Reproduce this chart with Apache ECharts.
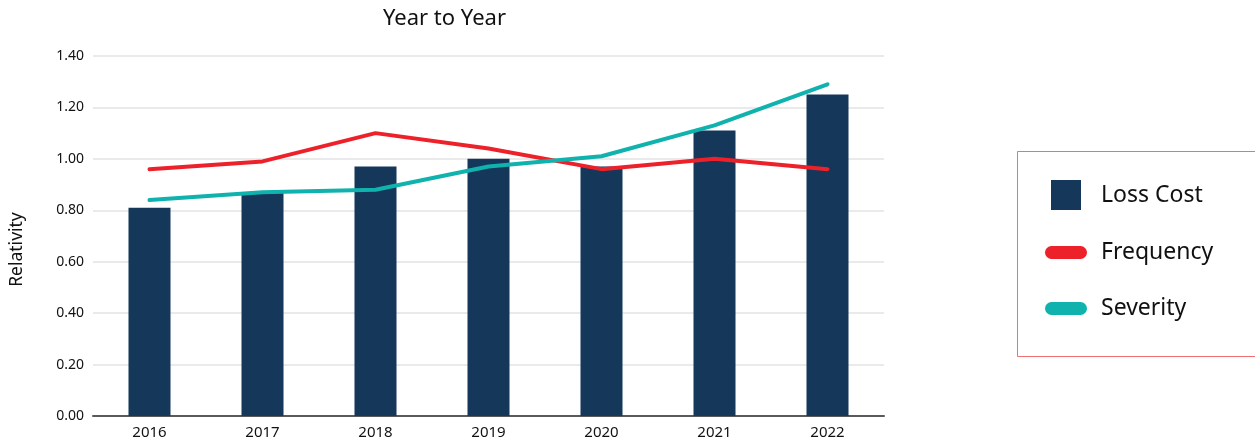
<!DOCTYPE html>
<html>
<head>
<meta charset="utf-8">
<script src="https://cdn.jsdelivr.net/npm/echarts@6/dist/echarts.min.js"></script>
<style>
  html, body { margin: 0; padding: 0; background: #fff; }
  #chart { width: 1255px; height: 445px; }
</style>
</head>
<body>
<div id="chart"></div>
<script>
const categories = ['2016', '2017', '2018', '2019', '2020', '2021', '2022'];
const lossCost = [0.81, 0.87, 0.97, 1.00, 0.97, 1.11, 1.25];
const frequency = [0.96, 0.99, 1.10, 1.04, 0.96, 1.00, 0.96];
const severity = [0.84, 0.87, 0.88, 0.97, 1.01, 1.13, 1.29];
const seriesNames = ['Loss Cost', 'Frequency', 'Severity'];
const yTicks = { min: 0, max: 1.4, interval: 0.2 };

const FONT = '"Noto Sans", sans-serif';
const NAVY = '#14375a';
const RED = '#ed2129';
const TEAL = '#10b2ae';
const PILL = 'path://M6.5,0H35.5A6.5,6.5,0,0,1,35.5,13H6.5A6.5,6.5,0,0,1,6.5,0Z';

function legendFor(name, icon, color, left, top) {
  return {
    orient: 'vertical',
    left: left,
    top: top,
    padding: 0,
    itemWidth: 42,
    itemHeight: 30,
    symbolKeepAspect: true,
    selectedMode: false,
    textStyle: { color: '#111', fontSize: 23, fontFamily: FONT, padding: [4, 0, 0, 9] },
    data: [{ name: name, icon: icon, itemStyle: { color: color, borderWidth: 0 } }]
  };
}

const chart = echarts.init(document.getElementById('chart'), null, { renderer: 'canvas' });
chart.setOption({
  animation: false,
  backgroundColor: '#ffffff',
  textStyle: { fontFamily: FONT },
  title: {
    text: 'Year to Year',
    left: 444.5,
    top: 8,
    padding: 0,
    textAlign: 'center',
    textStyle: { fontFamily: FONT, fontSize: 22, fontWeight: 'normal', color: '#111' }
  },
  grid: { left: 93, top: 56, width: 791, height: 360, containLabel: false },
  xAxis: {
    type: 'category',
    data: categories,
    axisLine: { lineStyle: { color: '#5a5a5a', width: 2 } },
    axisTick: { show: false },
    axisLabel: { color: '#111', fontSize: 15, fontFamily: FONT, margin: 9 }
  },
  yAxis: {
    type: 'value',
    min: yTicks.min,
    max: yTicks.max,
    interval: yTicks.interval,
    name: 'Relativity',
    nameLocation: 'middle',
    nameRotate: 90,
    nameGap: 67,
    nameTextStyle: { color: '#111', fontSize: 17.5, fontFamily: FONT, padding: [0, 27, 0, 0] },
    axisLine: { show: false },
    axisTick: { show: false },
    splitLine: { lineStyle: { color: '#e3e3e3', width: 1.5 } },
    axisLabel: {
      color: '#111', fontSize: 14, fontFamily: FONT, margin: 9,
      formatter: v => v.toFixed(2)
    }
  },
  legend: [
    legendFor(seriesNames[0], 'path://M0,0H30V30H0Z', NAVY, 1051, 180),
    legendFor(seriesNames[1], PILL, RED, 1045, 241),
    legendFor(seriesNames[2], PILL, TEAL, 1045, 297)
  ],
  graphic: [{
    type: 'rect',
    shape: { x: 1017.5, y: 151.5, width: 1237, height: 205 },
    style: { fill: 'none', stroke: '#ef6f73', lineWidth: 1 },
    silent: true
  }],
  series: [
    {
      name: seriesNames[0],
      type: 'bar',
      data: lossCost,
      barWidth: 42,
      itemStyle: { color: NAVY }
    },
    {
      name: seriesNames[1],
      type: 'line',
      data: frequency,
      showSymbol: false,
      symbol: 'none',
      lineStyle: { color: RED, width: 4, cap: 'round', join: 'round' },
      itemStyle: { color: RED }
    },
    {
      name: seriesNames[2],
      type: 'line',
      data: severity,
      showSymbol: false,
      symbol: 'none',
      lineStyle: { color: TEAL, width: 4, cap: 'round', join: 'round' },
      itemStyle: { color: TEAL }
    }
  ]
});
</script>
</body>
</html>
